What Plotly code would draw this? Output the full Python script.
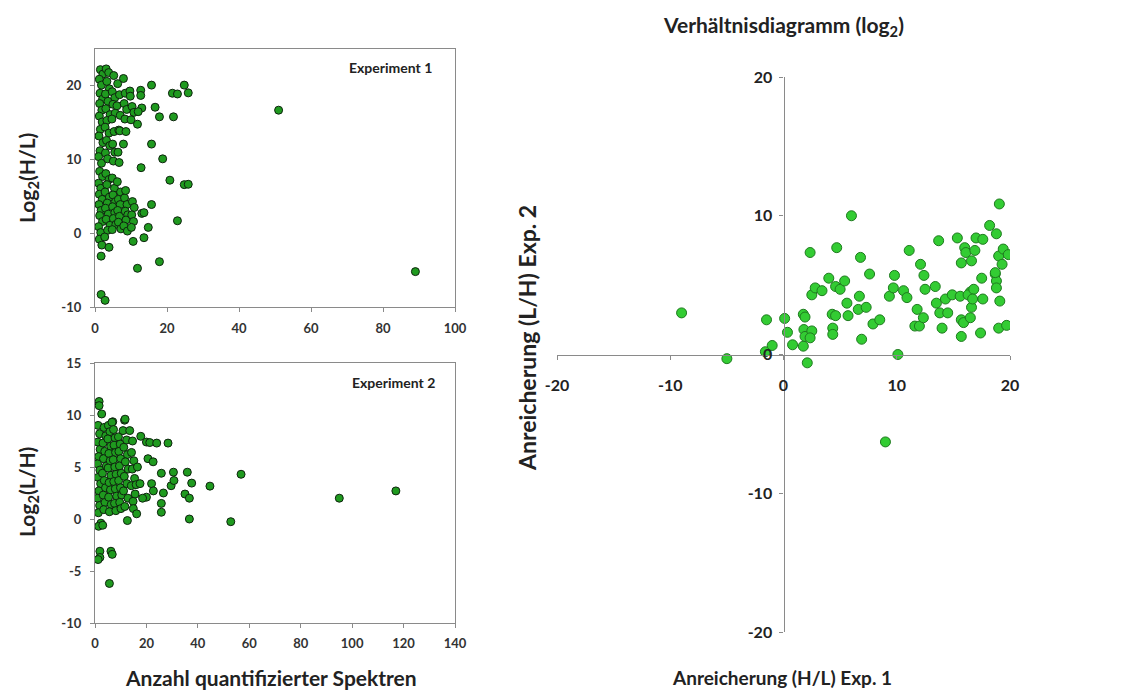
import plotly.graph_objects as go

# ---------------- data ----------------
# Experiment 1: number of quantified spectra vs log2(H/L)
exp1_spectra = [1.5,2.2,1.2,1.8,1.4,2.1,1.3,1.9,1.2,2.0,1.5,1.1,2.2,1.4,1.0,1.8,1.3,2.1,1.0,1.6,1.2,2.0,1.1,1.7,1.3,2.1,1.0,1.6,1.2,1.9,1.7,1.7,2.8,
                3.1,3.8,3.3,4.0,2.9,3.6,3.0,4.2,3.3,2.8,3.9,3.2,4.1,2.9,3.5,3.0,3.9,3.3,2.8,4.0,3.4,2.9,3.7,3.1,4.2,3.5,2.7,3.9,
                5.2,4.8,5.5,5.0,5.6,4.7,5.3,4.9,5.5,5.1,4.8,5.4,5.0,5.7,4.9,5.5,5.1,5.8,4.8,
                6.3,6.8,6.1,7.0,6.6,6.9,6.4,6.7,6.2,7.1,6.5,7.0,6.3,6.8,6.5,7.2,
                7.9,8.4,8.1,8.8,8.3,7.9,8.6,8.2,8.9,8.4,9.1,8.6,8.0,9.0,8.5,
                9.7,9.8,10.3,10.8,10.0,10.4,10.9,10.2,10.7,10.1,10.6,
                12.7,12.7,15.7,24.8,21.5,22.9,25.9,13.0,12.0,16.7,17.9,21.8,11.8,15.7,18.8,12.8,20.8,24.8,25.9,
                15.7,13.0,13.6,22.9,14.8,13.6,11.8,17.9,51.0,89.0]
exp1_log2_HL = [22.2,21.6,20.9,20.1,19.0,18.2,17.6,16.7,15.9,15.1,14.1,13.2,12.3,11.2,10.4,9.5,8.4,7.7,6.8,6.1,5.3,4.6,3.9,3.1,2.4,1.6,0.9,0.1,-0.8,-1.6,-3.1,-8.3,-9.1,
                22.3,21.8,20.6,19.6,18.9,17.9,16.9,16.1,15.3,14.4,13.6,12.6,11.9,10.9,10.1,8.1,7.3,6.6,5.6,4.9,4.1,3.4,2.6,1.9,1.1,0.4,-0.5,-1.9,
                21.4,19.2,18.4,17.5,16.3,15.5,13.8,12.1,11.0,9.8,7.5,6.1,5.2,4.3,3.6,2.8,2.0,1.2,0.5,
                20.3,18.8,17.3,16.0,14.0,13.9,11.0,9.6,7.0,5.6,4.6,3.9,3.1,2.3,1.5,0.6,
                21.0,19.0,17.6,16.8,15.5,12.1,13.8,4.8,3.9,3.0,2.5,1.8,1.0,0.3,5.8,
                19.3,18.6,17.2,16.4,15.4,4.3,3.5,2.5,1.6,0.8,-1.1,
                19.4,18.7,20.1,20.1,19.0,18.9,19.05,17.0,16.5,17.1,15.8,15.8,14.8,12.1,10.1,8.9,7.2,6.6,6.65,
                3.9,2.7,2.8,1.7,0.8,-0.6,-4.75,-3.85,16.7,-5.2]

# Experiment 2: number of quantified spectra vs log2(L/H)
exp2_spectra = [1.6,1.6,2.6,1.2,1.8,1.1,2.0,1.4,1.0,1.9,1.2,2.2,1.5,1.0,1.8,1.3,2.3,1.4,1.9,1.9,1.2,
                3.5,4.2,3.1,3.8,3.3,4.4,2.9,3.6,4.1,3.2,3.9,3.4,3.0,
                5.2,5.8,5.0,6.1,5.4,5.9,5.1,6.2,5.5,6.0,5.3,6.3,5.6,6.9,6.2,6.7,5.6,6.6,
                7.2,7.8,7.4,8.0,7.1,7.7,8.2,7.3,7.9,8.4,7.6,8.1,
                9.1,9.8,9.3,10.0,9.5,10.2,9.2,9.9,10.4,9.6,10.1,
                11.5,11.7,10.9,12.3,11.2,12.6,11.8,12.9,11.4,12.4,11.1,12.8,11.6,12.6,13.5,
                14.6,14.2,15.1,14.5,15.4,14.1,15.6,14.8,14.9,16.2,16.5,16.0,
                17.8,17.5,20.0,21.3,24.0,28.4,20.6,22.6,20.0,22.0,22.7,25.8,25.8,25.8,26.6,29.6,30.5,30.7,
                35.0,36.7,35.9,37.6,36.7,44.7,52.8,56.8,95.0,117.0,18.5]
exp2_log2_LH = [11.3,10.9,10.1,9.0,8.2,7.4,6.7,6.0,5.3,4.7,4.0,3.4,2.7,2.0,1.3,0.6,-0.4,-0.7,-3.1,-3.7,-3.9,
                8.8,8.0,7.3,6.5,5.8,5.1,4.4,3.7,3.0,2.3,1.6,0.9,-0.6,
                9.0,8.4,7.7,7.0,6.3,5.6,4.9,4.2,3.5,2.8,2.1,1.4,0.7,9.35,-3.1,-3.4,-6.2,9.3,
                8.6,7.8,7.1,6.4,5.7,5.0,4.3,3.6,2.9,2.2,1.5,0.8,
                7.9,7.2,6.5,5.8,5.1,4.4,3.7,3.0,2.3,1.6,1.0,
                9.5,9.6,8.5,7.6,6.9,6.2,5.5,4.8,4.1,3.4,2.7,2.0,1.2,-0.15,8.5,
                7.5,6.4,5.6,4.8,3.9,3.2,2.4,1.7,1.0,0.5,5.0,3.3,
                7.95,3.4,7.4,7.35,7.3,7.3,5.8,5.5,2.1,3.4,2.7,4.4,1.5,0.65,2.5,3.2,4.5,3.7,
                2.4,2.0,4.5,3.45,0.0,3.16,-0.26,4.3,2.0,2.7,2.0]

# Ratio plot: enrichment H/L (Exp. 1) vs enrichment L/H (Exp. 2)
ratio_exp1 = [-9.0,-5.0,-1.5,-1.6,-1.0,0.1,0.35,0.8,1.75,1.75,1.9,1.8,1.9,2.5,2.35,2.1,2.35,2.5,2.8,3.4,4.0,4.7,4.3,4.6,4.35,4.35,
              4.6,5.0,5.4,5.6,5.7,6.0,6.8,6.7,6.6,7.3,6.9,7.6,7.9,8.5,9.0,9.35,9.7,9.8,10.1,10.6,10.9,11.1,11.8,11.6,12.0,12.35,
              12.1,12.4,12.5,13.4,13.5,13.8,14.0,14.5,13.7,14.3,14.9,15.6,15.35,15.7,15.7,15.9,15.7,16.5,16.6,16.0,16.1,16.5,16.3,
              16.8,16.7,16.6,16.9,17.0,17.6,17.4,17.5,17.6,18.2,18.8,19.06,18.7,18.8,18.8,18.7,19.0,19.3,19.1,19.0,19.7,19.4,19.85]
ratio_exp2 = [3.0,-0.3,2.5,0.2,0.65,2.6,1.6,0.7,0.6,2.9,2.7,1.8,1.3,1.7,1.2,-0.6,7.35,4.3,4.8,4.6,5.5,7.7,2.9,2.8,1.9,1.45,
              4.9,4.7,5.3,3.7,2.8,10.0,7.0,4.2,3.25,3.4,1.1,5.8,2.2,2.5,-6.3,4.2,4.8,5.7,0.0,4.6,4.1,7.5,3.25,2.05,2.05,2.65,
              6.5,5.7,4.7,4.9,3.7,3.0,1.9,3.0,8.2,4.0,4.3,4.2,8.4,6.6,2.5,2.3,1.3,2.65,3.4,7.7,7.35,4.5,4.3,
              4.7,4.0,6.75,7.5,8.4,8.3,1.55,5.5,4.0,9.3,8.7,10.85,5.8,5.3,4.8,5.9,7.1,6.5,3.85,1.9,2.1,7.6,7.2]

left_x_ticks_top = [0, 20, 40, 60, 80, 100]
left_y_ticks_top = [-10, 0, 10, 20]
left_x_ticks_bot = [0, 20, 40, 60, 80, 100, 120, 140]
left_y_ticks_bot = [-10, -5, 0, 5, 10, 15]
ratio_ticks = [-20, -10, 0, 10, 20]

# ---------------- figure ----------------
OFF = 8                      # the page body adds an 8 px margin around the figure
W, H = 1142 - OFF, 690 - OFF
FONT = "Lato"
AXC = "#8a8a8a"
TXT = "#222222"

def px_x(p):
    return (p - OFF) / W

def px_y(p):
    return 1 - (p - OFF) / H

def labels(vals):
    return [str(v) for v in vals]   # plain hyphen-minus as in the reference

fig = go.Figure()

small_marker = dict(size=8, color="#1f9a1f", line=dict(color="#0e240e", width=1))
big_marker = dict(size=10, color="#33cc33", line=dict(color="#1f7a1f", width=1))

fig.add_trace(go.Scatter(x=exp1_spectra, y=exp1_log2_HL, mode="markers", marker=small_marker,
                         xaxis="x", yaxis="y", showlegend=False))
fig.add_trace(go.Scatter(x=exp2_spectra, y=exp2_log2_LH, mode="markers", marker=small_marker,
                         xaxis="x2", yaxis="y2", showlegend=False))
fig.add_trace(go.Scatter(x=ratio_exp1, y=ratio_exp2, mode="markers", marker=big_marker,
                         xaxis="x3", yaxis="y3", showlegend=False))

small_tick_font = dict(family=FONT, size=13, color="#333333", weight="bold")
big_tick_font = dict(family=FONT, size=16, color=TXT, weight="bold")

box_axis = dict(showline=True, linecolor=AXC, linewidth=1.2, mirror=True, showgrid=False,
                zeroline=False, ticks="outside", ticklen=4, tickcolor=AXC, tickfont=small_tick_font,
                automargin=False)

fig.update_layout(
    width=W, height=H, autosize=False,
    margin=dict(l=0, r=0, t=0, b=0, autoexpand=False),
    paper_bgcolor="white", plot_bgcolor="white",
    xaxis=dict(domain=[px_x(95), px_x(455)], anchor="y", range=[0, 100], tickvals=left_x_ticks_top,
               ticktext=labels(left_x_ticks_top), ticklabelstandoff=5, **box_axis),
    yaxis=dict(domain=[px_y(307), px_y(49)], anchor="x", range=[-10, 25], tickvals=left_y_ticks_top,
               ticktext=labels(left_y_ticks_top), ticklabelstandoff=6, **box_axis),
    xaxis2=dict(domain=[px_x(95), px_x(455)], anchor="y2", range=[0, 140], tickvals=left_x_ticks_bot,
                ticktext=labels(left_x_ticks_bot), ticklabelstandoff=4, **box_axis),
    yaxis2=dict(domain=[px_y(623), px_y(363)], anchor="x2", range=[-10, 15], tickvals=left_y_ticks_bot,
                ticktext=labels(left_y_ticks_bot), ticklabelstandoff=6, **box_axis),
    xaxis3=dict(domain=[px_x(557), px_x(1010)], anchor="free",
                position=(px_y(632) + px_y(77)) / 2, range=[-20, 20], tickvals=ratio_ticks,
                ticktext=labels(ratio_ticks),
                showline=True, linecolor=AXC, linewidth=1.2, showgrid=False, zeroline=False, automargin=False,
                ticks="outside", ticklen=4, tickcolor=AXC, tickfont=big_tick_font, ticklabelstandoff=12),
    yaxis3=dict(domain=[px_y(632), px_y(77)], anchor="free",
                position=(px_x(557) + px_x(1010)) / 2, range=[-20, 20], tickvals=ratio_ticks,
                ticktext=labels(ratio_ticks),
                showline=True, linecolor=AXC, linewidth=1.2, showgrid=False, zeroline=False, automargin=False,
                ticks="outside", ticklen=4, tickcolor=AXC, tickfont=big_tick_font, ticklabelstandoff=4),
)

def tf(size):
    return dict(family=FONT, size=size, color=TXT, weight="bold")

annotations = [
    dict(text="Experiment 1", x=px_x(390), y=px_y(67), font=tf(14)),
    dict(text="Experiment 2", x=px_x(393), y=px_y(383), font=tf(14)),
    dict(text="Log<sub>2</sub>(H/L)", x=px_x(28), y=px_y(178), textangle=-90, font=tf(21)),
    dict(text="Log<sub>2</sub>(L/H)", x=px_x(28), y=px_y(492), textangle=-90, font=tf(21)),
    dict(text="Anzahl quantifizierter Spektren", x=px_x(271), y=px_y(677), font=tf(21)),
    dict(text="Verhältnisdiagramm (log<sub>2</sub>)", x=px_x(783), y=px_y(26), font=tf(21)),
    dict(text="Anreicherung (H/L) Exp. 1", x=px_x(782), y=px_y(677), font=tf(19)),
    dict(text="Anreicherung (L/H) Exp. 2", x=px_x(527), y=px_y(338), textangle=-90, font=tf(23)),
]
for a in annotations:
    a.update(xref="paper", yref="paper", showarrow=False, xanchor="center", yanchor="middle")
fig.update_layout(annotations=annotations)

fig.write_html("out.html")
